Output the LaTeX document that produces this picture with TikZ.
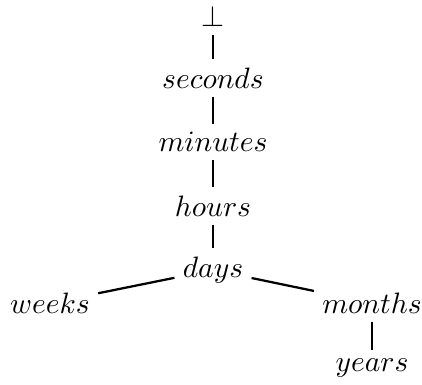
\documentclass[tikz,border=0pt]{standalone}
\usepackage{graphicx}
\newcommand\lbtxt[1]{\scalebox{1.05}{$#1$}}
\begin{document}
\begin{tikzpicture}[x=0.3559pt,y=-0.3559pt, line width=0.8pt,
  lbl/.style={inner sep=2.6pt}]
\useasboundingbox (0,0) rectangle (422,385);
\node[lbl] (bot) at (213,16) {\lbtxt{\bot}};
\node[lbl] (sec) at (213,78) {\lbtxt{seconds}};
\node[lbl] (min) at (213,142) {\lbtxt{minutes}};
\node[lbl] (hrs) at (213,206) {\lbtxt{hours}};
\node[lbl] (day) at (213,270) {\lbtxt{days}};
\node[lbl] (wk) at (50,303) {\lbtxt{weeks}};
\node[lbl] (mon) at (372,303) {\lbtxt{months}};
\node[lbl] (yr) at (372,368) {\lbtxt{years}};
\draw (bot) -- (sec);
\draw (sec) -- (min);
\draw (min) -- (hrs);
\draw (hrs) -- (day);
\draw (day) -- (wk);
\draw (day) -- (mon);
\draw (mon) -- (yr);
\end{tikzpicture}
\end{document}
